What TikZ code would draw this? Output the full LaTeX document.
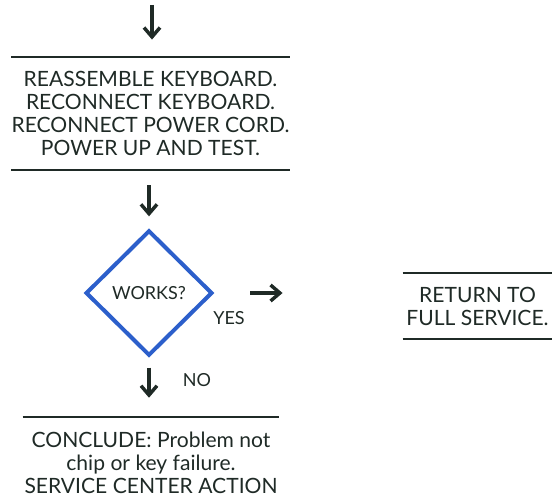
\documentclass[tikz,border=0pt]{standalone}
\usepackage{fontspec}
\setmainfont{Lato}
\usetikzlibrary{shapes.geometric,arrows.meta}
\definecolor{ink}{HTML}{1F2A26}
\definecolor{chartblue}{HTML}{2C5FCB}
\tikzset{
  ruled/.style={align=center, inner sep=0pt, text=ink, font=\fontsize{15.8}{17.25}\selectfont},
  rule/.style={draw=ink, line width=1.5pt},
  flow/.style={->, draw=ink, line width=2.6pt},
  decision/.style={diamond, draw=chartblue, line width=3pt, aspect=1, inner sep=0pt,
    minimum width=95pt, minimum height=94pt, text=ink, font=\fontsize{13.5}{15}\selectfont},
  tag/.style={inner sep=0pt, text=ink, font=\fontsize{13.5}{15}\selectfont}
}
\begin{document}
\begin{tikzpicture}[x=0.75pt, y=-0.75pt, >={Straight Barb[length=7pt,width=12pt]}]
\useasboundingbox (0,0) rectangle (556,502);
\coordinate (in) at (152,5);
\node[ruled, minimum width=206pt, minimum height=85pt] (r) at (150.5,113.5) {REASSEMBLE KEYBOARD.\\RECONNECT KEYBOARD.\\RECONNECT POWER CORD.\\POWER UP AND TEST.};
\node[decision] (d) at (149,293) {WORKS?};
\node[ruled, minimum width=112pt, minimum height=49.5pt] (ret) at (477.5,306) {RETURN TO\\FULL SERVICE.};
\node[ruled, minimum width=192pt, minimum height=69pt] (c) at (151,463) {CONCLUDE: Problem not\\chip or key failure.\\SERVICE CENTER ACTION};
\node[tag] (yes) at (229,318) {YES};
\node[tag] (no) at (197,380) {NO};
% rules above and below the boxes
\draw[rule] (r.north west) -- (r.north east);
\draw[rule] (r.south west) -- (r.south east);
\draw[rule] (ret.north west) -- (ret.north east);
\draw[rule] (ret.south west) -- (ret.south east);
\draw[rule] (c.north west) -- (c.north east);
% arrows
\draw[flow, shorten >=12.75pt] (in) -- (in |- r.north);
\draw[flow, shorten <=11pt, shorten >=9pt] (d.north |- r.south) -- (d.north);
\draw[flow, shorten <=27pt, shorten >=90pt] (d.east) -- (d.east -| ret.west);
\draw[flow, shorten <=7.5pt, shorten >=14.25pt] (d.south) -- (d.south |- c.north);
\end{tikzpicture}
\end{document}
